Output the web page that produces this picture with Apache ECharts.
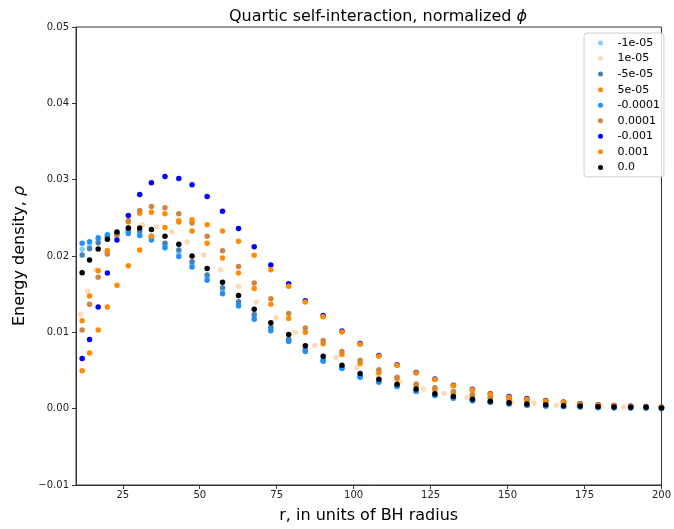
<!DOCTYPE html>
<html><head><meta charset="utf-8">
<script src="https://cdn.jsdelivr.net/npm/echarts@6/dist/echarts.min.js"></script>
<style>html,body{margin:0;padding:0;background:#fff}#c{width:674px;height:529px}</style>
</head><body><div id="c"></div>
<script>
// shared radial grid (units of BH radius)
const r = [11.8, 14.2, 17.0, 20.0, 23.1, 26.8, 30.5, 34.3, 38.7, 43.2, 47.5, 52.4, 57.4, 62.6, 67.7, 73.1, 78.9, 84.3, 90.1, 96.2, 102.1, 108.2, 114.1, 120.3, 126.4, 132.4, 138.6, 144.4, 150.5, 156.3, 162.4, 168.2, 173.6, 179.4, 184.6, 190.0, 195.0, 200.0];

const rhoM1e5 = [0.02088,0.02131,0.02208,0.02260,0.02295,0.02318,0.02299,0.02234,0.02137,0.02036,0.01889,0.01717,0.01549,0.01374,0.01204,0.01044,0.00893,0.00759,0.00627,0.00533,0.00417,0.00352,0.00294,0.00229,0.00175,0.00141,0.00105,0.00084,0.00062,0.00045,0.00035,0.00029,0.00023,0.00015,0.00012,0.00010,0.00008,0.00006];

// the 1e-05 run sits on its own radial grid
const rP1e5 = [11.3,13.6,16.4,19.6,23.1,27.2,31.4,36.0,40.9,45.9,51.3,56.8,62.6,68.4,74.9,81.0,87.4,94.3,101.1,107.9,115.0,122.5,129.4,136.9,144.3,151.3,158.6,165.8,173.0,180.2,187.7,195.0];
const rhoP1e5 = [0.01238,0.01539,0.0182,0.0205,0.0229,0.0237,0.02411,0.02380,0.02318,0.02182,0.02012,0.01820,0.01604,0.01397,0.01190,0.01001,0.00828,0.00669,0.00536,0.00430,0.00345,0.00259,0.00203,0.00151,0.00110,0.00085,0.00070,0.00044,0.00035,0.00031,0.00018,0.00014];

const rhoM5e5 = [0.02014,0.02094,0.02173,0.02251,0.02305,0.02338,0.02329,0.02260,0.02166,0.02079,0.01924,0.01752,0.01583,0.01402,0.01234,0.01066,0.00908,0.00772,0.00636,0.00540,0.00423,0.00358,0.00298,0.00233,0.00177,0.00142,0.00107,0.00085,0.00063,0.00046,0.00036,0.00030,0.00024,0.00016,0.00013,0.00011,0.00009,0.00006];
const rhoP5e5 = [0.01151,0.01475,0.01807,0.02072,0.02286,0.02445,0.02561,0.02573,0.02554,0.02461,0.02329,0.02166,0.01975,0.01777,0.01574,0.01367,0.01182,0.01001,0.00850,0.00708,0.00591,0.00472,0.00391,0.00303,0.00248,0.00203,0.00171,0.00138,0.00115,0.00103,0.00083,0.00070,0.00057,0.00045,0.00038,0.00030,0.00023,0.00018];
const rhoM1e4 = [0.02166,0.02186,0.02238,0.02277,0.02286,0.02295,0.02269,0.02208,0.02109,0.01992,0.01855,0.01682,0.01506,0.01345,0.01173,0.01022,0.00880,0.00750,0.00621,0.00527,0.00410,0.00345,0.00290,0.00225,0.00173,0.00138,0.00103,0.00083,0.00061,0.00044,0.00035,0.00028,0.00022,0.00014,0.00011,0.00010,0.00008,0.00005];
const rhoP1e4 = [0.01031,0.01367,0.01721,0.02027,0.02273,0.02463,0.02596,0.02648,0.02631,0.02554,0.02432,0.02260,0.02070,0.01863,0.01646,0.01441,0.01247,0.01057,0.00893,0.00750,0.00634,0.00511,0.00410,0.00323,0.00274,0.00225,0.00186,0.00151,0.00125,0.00106,0.00089,0.00076,0.00063,0.00050,0.00043,0.00035,0.00028,0.00022];
const rhoM1e3 = [0.00656,0.00906,0.01332,0.01778,0.02208,0.02532,0.02807,0.02959,0.03040,0.03014,0.02933,0.02781,0.02587,0.02360,0.02122,0.01881,0.01635,0.01413,0.01219,0.01018,0.00853,0.00695,0.00574,0.00475,0.00388,0.00307,0.00255,0.00197,0.00158,0.00132,0.00106,0.00087,0.00063,0.00048,0.00040,0.00032,0.00026,0.00020];
const rhoP1e3 = [0.00497,0.00730,0.01031,0.01332,0.01617,0.01872,0.02079,0.02260,0.02373,0.02445,0.02476,0.02411,0.02329,0.02193,0.02010,0.01820,0.01604,0.01397,0.01203,0.01005,0.00843,0.00688,0.00568,0.00468,0.00382,0.00300,0.00248,0.00190,0.00151,0.00125,0.00100,0.00083,0.00061,0.00045,0.00038,0.00030,0.00023,0.00017];
const rhoZero = [0.01781,0.01947,0.02092,0.02221,0.02316,0.02367,0.02367,0.02347,0.02260,0.02153,0.02001,0.01837,0.01657,0.01481,0.01303,0.01125,0.00970,0.00824,0.00686,0.00569,0.00462,0.00384,0.00320,0.00259,0.00194,0.00160,0.00125,0.00096,0.00078,0.00061,0.00052,0.00039,0.00036,0.00026,0.00022,0.00020,0.00019,0.00009];

const seriesNames = ['-1e-05','1e-05','-5e-05','5e-05','-0.0001','0.0001','-0.001','0.001','0.0'];
const xTicks = [25,50,75,100,125,150,175,200];

const defs = [
  {name: seriesNames[0], color:'#87cefa', xs:r, ys:rhoM1e5},
  {name: seriesNames[1], color:'#ffdab9', xs:rP1e5, ys:rhoP1e5},
  {name: seriesNames[2], color:'#4682b4', xs:r, ys:rhoM5e5},
  {name: seriesNames[3], color:'#ff8c00', xs:r, ys:rhoP5e5},
  {name: seriesNames[4], color:'#1e90ff', xs:r, ys:rhoM1e4},
  {name: seriesNames[5], color:'#cd853f', xs:r, ys:rhoP1e4},
  {name: seriesNames[6], color:'#0000ff', xs:r, ys:rhoM1e3},
  {name: seriesNames[7], color:'#ff8c00', xs:r, ys:rhoP1e3},
  {name: seriesNames[8], color:'#000000', xs:r, ys:rhoZero}
];

const FONT = 'DejaVu Sans';
const AX = '#333';
const chart = echarts.init(document.getElementById('c'), null, {renderer:'canvas'});
chart.setOption({
  animation: false,
  backgroundColor: '#fff',
  textStyle: {fontFamily: FONT},
  title: {
    text: 'Quartic self-interaction, normalized {i|ϕ}',
    left: 373, top: 4, textAlign: 'center',
    textStyle: {fontSize: 16, fontWeight: 'normal', color: '#000', fontFamily: FONT,
      rich: {i: {fontStyle: 'italic', fontSize: 16, fontFamily: FONT, color: '#000'}}}
  },
  grid: {left: 76, right: 6, top: 27, bottom: 41, show: true, borderColor: AX, borderWidth: 1, backgroundColor: 'transparent'},
  legend: {
    orient: 'vertical', left: 584, top: 33,
    padding: [3.5, 4, 3, 14], itemGap: 2.55, itemWidth: 24, itemHeight: 5,
    icon: 'circle',
    backgroundColor: 'rgba(255,255,255,0.85)', borderColor: '#d0d0d0', borderWidth: 1, borderRadius: 3,
    textStyle: {fontSize: 11, color: '#000', lineHeight: 13, fontFamily: FONT},
    data: seriesNames, selectedMode: false
  },
  xAxis: {
    type: 'value', min: 9.8, max: 200,
    axisLine: {show: true, onZero: false, lineStyle: {color: AX}},
    axisTick: {show: true, customValues: xTicks, length: 4, lineStyle: {color: AX}},
    axisLabel: {customValues: xTicks, fontSize: 10, color: '#222', margin: 5, fontFamily: FONT},
    splitLine: {show: false},
    name: 'r, in units of BH radius', nameLocation: 'middle', nameGap: 23,
    nameTextStyle: {fontSize: 16, color: '#000', fontFamily: FONT}
  },
  yAxis: {
    type: 'value', min: -0.01, max: 0.05, interval: 0.01,
    axisLine: {show: true, onZero: false, lineStyle: {color: AX}},
    axisTick: {show: true, length: 4, lineStyle: {color: AX}},
    axisLabel: {fontSize: 10, color: '#222', margin: 7, fontFamily: FONT,
      formatter: v => Math.abs(v) < 1e-9 ? '0.00' : v.toFixed(2).replace('-', '\u2212')},
    splitLine: {show: false},
    name: 'Energy density, {i|ρ}', nameLocation: 'middle', nameGap: 45,
    nameTextStyle: {fontSize: 16, color: '#000', fontFamily: FONT,
      rich: {i: {fontStyle: 'italic', fontSize: 16, fontFamily: FONT, color: '#000'}}}
  },
  series: defs.map(d => ({
    name: d.name, type: 'scatter', symbol: 'circle', symbolSize: 5.5,
    itemStyle: {color: d.color, opacity: 1},
    emphasis: {disabled: true}, silent: true,
    data: d.xs.map((x, i) => [x, d.ys[i]])
  }))
});
</script></body></html>
